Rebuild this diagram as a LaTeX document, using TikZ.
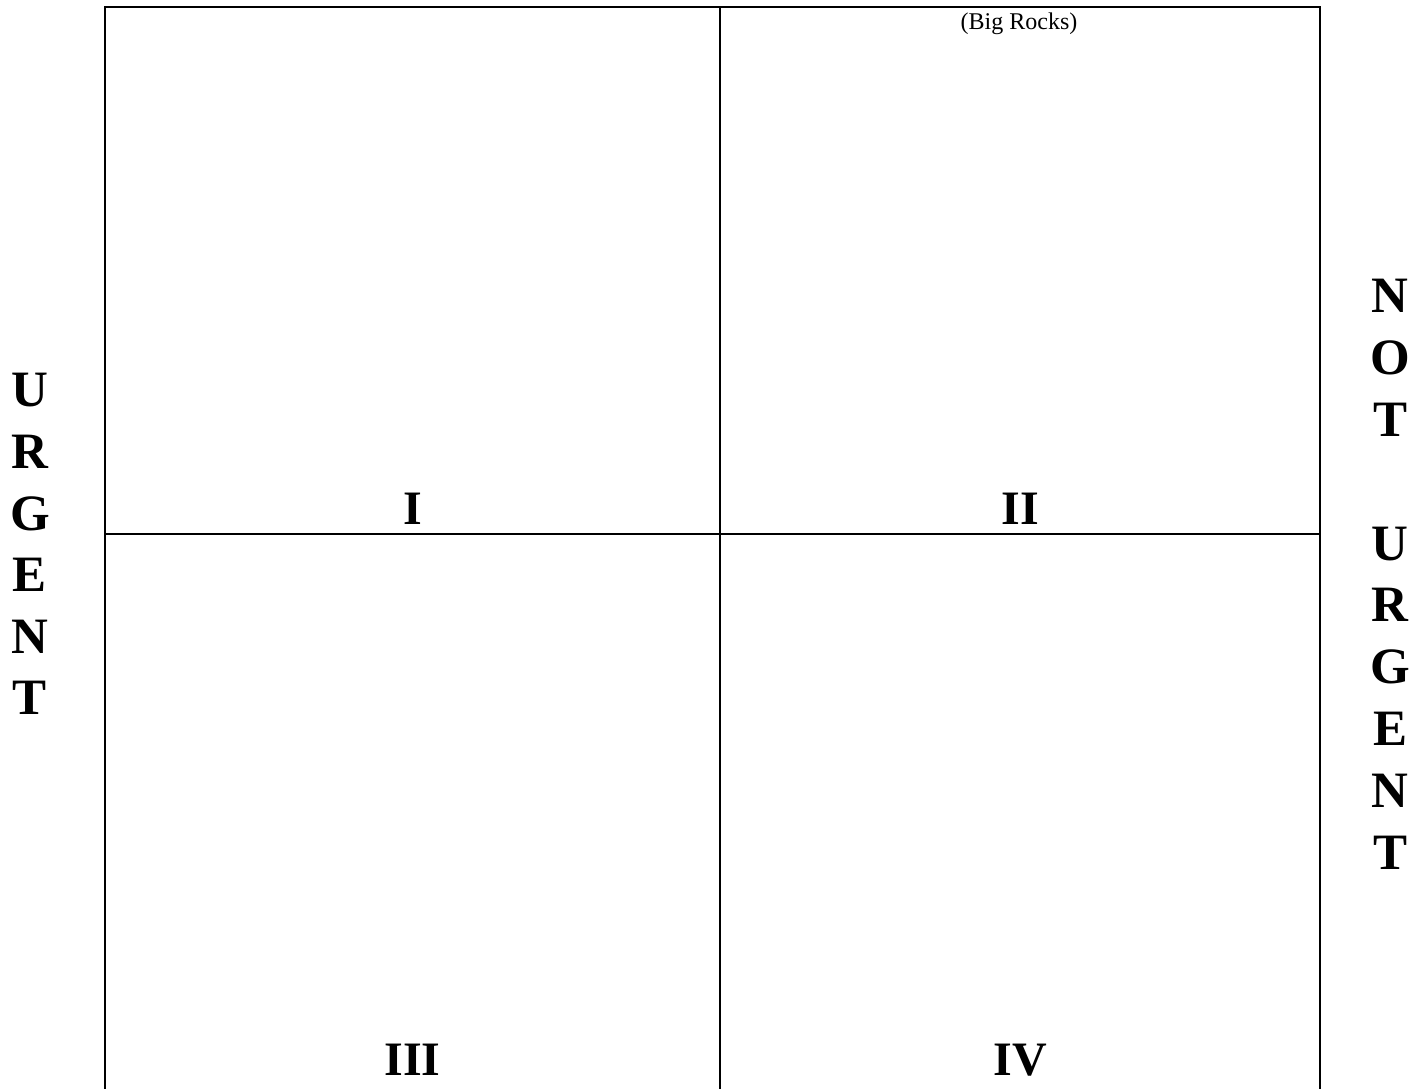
\documentclass[tikz,border=0pt]{standalone}
\usepackage{fontspec}
\setmainfont{Liberation Serif}

\tikzset{
  gridline/.style={line width=1.6pt},
  sideletter/.style={font=\fontsize{51}{60}\selectfont\bfseries, anchor=base, inner sep=0pt},
  quadlabel/.style={font=\fontsize{48}{56}\selectfont\bfseries, anchor=base, inner sep=0pt},
  notelabel/.style={font=\fontsize{24}{28}\selectfont, anchor=base, inner sep=0pt}
}

\begin{document}
\begin{tikzpicture}[x=1pt,y=1pt]
  \useasboundingbox (0,0) rectangle (1425,1088);
  % grid corners
  \coordinate (tl) at (105,1081);
  \coordinate (tr) at (1320,1081);
  \coordinate (bl) at (105,-5);
  \coordinate (br) at (1320,-5);
  \coordinate (tm) at (720,1081);
  \coordinate (bm) at (720,-5);
  \coordinate (lm) at (105,554);
  \coordinate (rm) at (1320,554);
  \draw[gridline] (bl) -- (tl) -- (tr) -- (br);
  \draw[gridline] (tm) -- (bm);
  \draw[gridline] (lm) -- (rm);
  % quadrant numbers
  \node[quadlabel] (q1) at (412.5,563) {I};
  \node[quadlabel] (q2) at (1020,563) {II};
  \node[quadlabel] (q3) at (412.5,13) {III};
  \node[quadlabel] (q4) at (1020,13) {IV};
  \node[notelabel] (rocks) at (1019,1058) {(Big Rocks)};
  % side words
  \foreach \ch [count=\i from 0] in {U,R,G,E,N,T}
    \node[sideletter] (left\i) at (30,681-\i*61.6) {\ch};
  \foreach \ch/\row in {N/0,O/1,T/2,U/4,R/5,G/6,E/7,N/8,T/9}
    \node[sideletter] (right\row) at (1390,775-\row*61.8) {\ch};
\end{tikzpicture}
\end{document}
